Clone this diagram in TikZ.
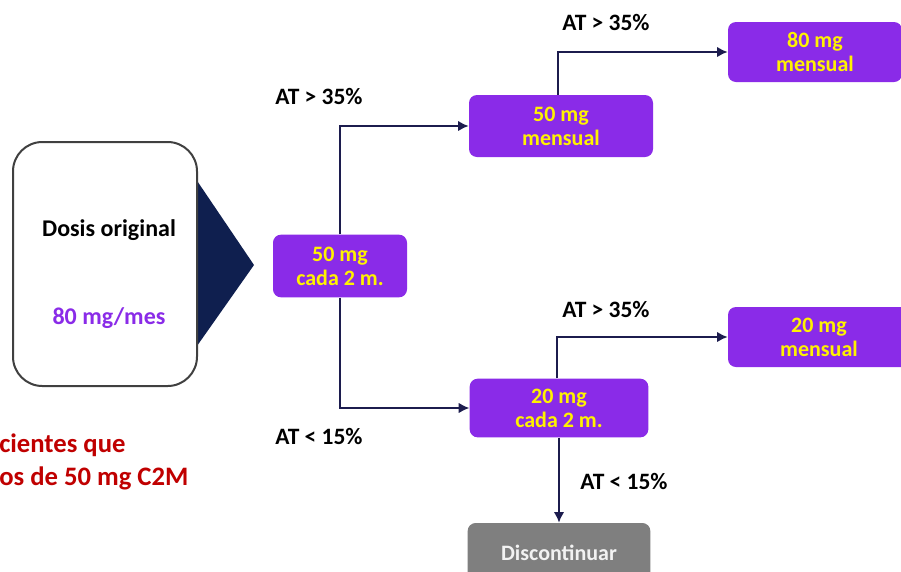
\documentclass[tikz,border=0pt]{standalone}
\usepackage{fontspec}
\setmainfont{Carlito}
\usetikzlibrary{arrows.meta}
\definecolor{dosis}{HTML}{8A2BE8}
\definecolor{linea}{HTML}{1C1C4E}
\definecolor{flecha}{HTML}{0F1F4F}
\definecolor{rojo}{HTML}{C00000}
\definecolor{gris}{HTML}{7F7F7F}
\begin{document}
\begin{tikzpicture}[x=0.75pt, y=-0.75pt,
    dosisbox/.style={rectangle, rounded corners=6pt, fill=dosis, text=yellow,
        font=\fontsize{16.5}{18}\selectfont\bfseries, align=center, inner sep=0pt},
    cond/.style={font=\fontsize{17.6}{20}\selectfont\bfseries, text=black},
    conn/.style={draw=linea, line width=2pt, -{Latex[length=8pt,width=8pt]}}]
    \useasboundingbox[fill=white] (0,0) rectangle (901,572);

    % Original dose
    \fill[flecha] (185,163) -- (254,265) -- (185,363) -- cycle;
    \node[draw=black!75, line width=1.5pt, fill=white, rounded corners=22pt,
        minimum width=138pt, minimum height=183pt] (orig) at (105,264) {};
    \node[font=\fontsize{18}{21}\selectfont\bfseries] (origtxt) at (109,230) {Dosis original};
    \node[font=\fontsize{18}{21}\selectfont\bfseries, text=dosis] (origdose) at (109,318) {80 mg/mes};

    % Note (cut at the left edge)
    \node[anchor=west, font=\fontsize{20}{25}\selectfont\bfseries, text=rojo, align=left,
        inner sep=0pt] (nota) at (-1,462) {cientes que\\os de 50 mg C2M};

    % Dose boxes
    \node[dosisbox, minimum width=100.5pt, minimum height=47pt] (b1) at (340,266) {50 mg\\cada 2 m.};
    \node[dosisbox, minimum width=138pt, minimum height=46.5pt] (b2) at (561,126) {50 mg\\mensual};
    \node[dosisbox, minimum width=130.5pt, minimum height=45pt] (b3) at (815,52) {80 mg\\mensual};
    \node[dosisbox, minimum width=134pt, minimum height=44pt] (b4) at (559,408) {20 mg\\cada 2 m.};
    \node[dosisbox, minimum width=136.5pt, minimum height=45pt] (b5) at (819,337) {20 mg\\mensual};
    \node[dosisbox, fill=gris, text=white!95!black, minimum width=137pt,
        minimum height=45pt] (disc) at (559,553) {Discontinuar};

    % Connectors
    \coordinate (up2) at (558,126);
    \coordinate (up4) at (557,408);
    \draw[conn] (b1.north) |- (b2.west);
    \draw[conn] (b1.south) |- (b4.west);
    \draw[conn] (up2 |- b2.north) |- (b3.west);
    \draw[conn] (up4 |- b4.north) |- (b5.west);
    \draw[conn] (b4.south) -- (disc.north);

    % Conditions
    \node[cond] (c1) at (319,97) {AT > 35\%};
    \node[cond] (c2) at (606,23) {AT > 35\%};
    \node[cond] (c3) at (606,310) {AT > 35\%};
    \node[cond] (c4) at (319,437) {AT < 15\%};
    \node[cond] (c5) at (624,482) {AT < 15\%};
\end{tikzpicture}
\end{document}
